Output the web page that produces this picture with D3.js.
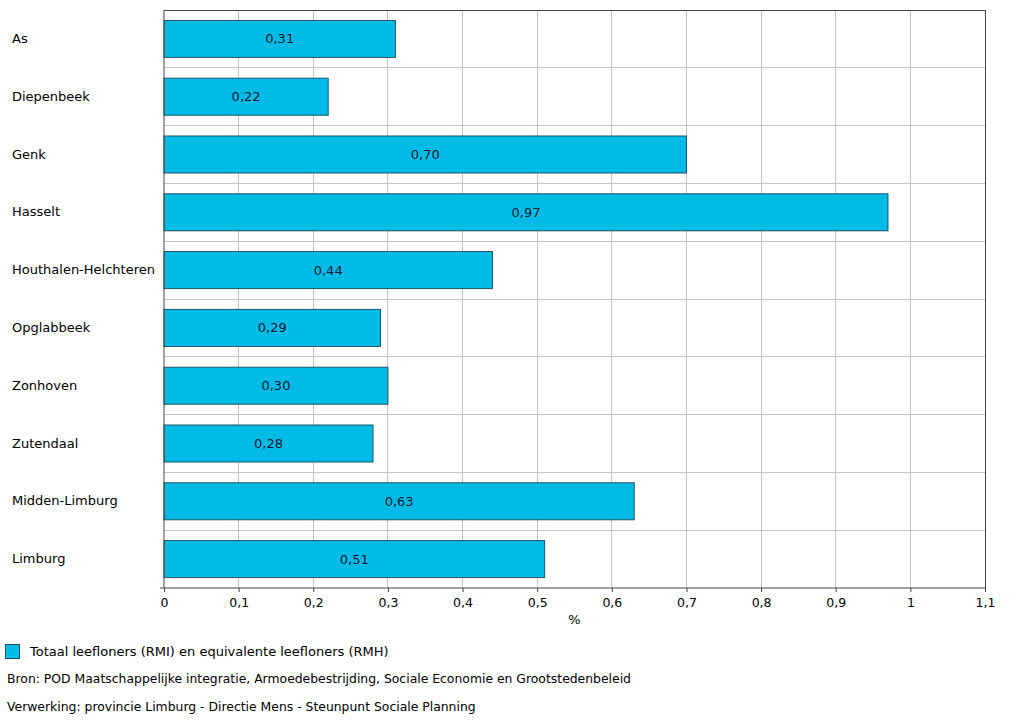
<!DOCTYPE html>
<html>
<head>
<meta charset="utf-8">
<script src="https://cdn.jsdelivr.net/npm/d3@7"></script>
<style>
  body { margin: 0; background: #fff; }
  text { font-family: "DejaVu Sans", Verdana, sans-serif; font-size: 13px; fill: #000; }
</style>
</head>
<body>
<div id="chart"></div>
<script>
// data
const categories = ["As", "Diepenbeek", "Genk", "Hasselt", "Houthalen-Helchteren",
  "Opglabbeek", "Zonhoven", "Zutendaal", "Midden-Limburg", "Limburg"];
const values = [0.31, 0.22, 0.70, 0.97, 0.44, 0.29, 0.30, 0.28, 0.63, 0.51];
const xTicks = [0, 0.1, 0.2, 0.3, 0.4, 0.5, 0.6, 0.7, 0.8, 0.9, 1, 1.1];
const legendLabel = "Totaal leefloners (RMI) en equivalente leefloners (RMH)";
const notes = [
  "Bron: POD Maatschappelijke integratie, Armoedebestrijding, Sociale Economie en Grootstedenbeleid",
  "Verwerking: provincie Limburg - Directie Mens - Steunpunt Sociale Planning"
];

const W = 1024, H = 722;
const margin = { top: 10, right: 39, bottom: 134, left: 164 };
const width = W - margin.left - margin.right;
const height = H - margin.top - margin.bottom;

const fmt = v => String(v).replace(".", ",");
const fmt2 = v => v.toFixed(2).replace(".", ",");

const root = d3.select("#chart").append("svg")
  .attr("width", W).attr("height", H);

const svg = root.append("g")
  .attr("transform", `translate(${margin.left}, ${margin.top})`);

const x = d3.scaleLinear().domain([0, 1.1]).range([0, width]);
const y = d3.scaleBand().domain(categories).range([0, height]).paddingInner(0.36).paddingOuter(0.18);

// vertical grid
svg.append("g")
  .selectAll("line")
  .data(xTicks.slice(1, -1))
  .join("line")
  .attr("x1", d => x(d)).attr("x2", d => x(d))
  .attr("y1", 0).attr("y2", height)
  .attr("stroke", "#c4c4c4").attr("stroke-width", 1)
  .attr("shape-rendering", "crispEdges");

// horizontal grid at band boundaries
svg.append("g")
  .selectAll("line")
  .data(d3.range(1, categories.length))
  .join("line")
  .attr("x1", 0).attr("x2", width)
  .attr("y1", i => i * height / categories.length)
  .attr("y2", i => i * height / categories.length)
  .attr("stroke", "#c4c4c4").attr("stroke-width", 1)
  .attr("shape-rendering", "crispEdges");

// bars
svg.append("g")
  .selectAll("rect")
  .data(values)
  .join("rect")
  .attr("x", x(0))
  .attr("y", (d, i) => y(categories[i]))
  .attr("width", d => x(d) - x(0))
  .attr("height", y.bandwidth())
  .attr("fill", "#00bbe6")
  .attr("stroke", "#1f5466")
  .attr("stroke-width", 1);

// value labels
svg.append("g")
  .selectAll("text")
  .data(values)
  .join("text")
  .attr("x", d => x(d) / 2)
  .attr("y", (d, i) => y(categories[i]) + y.bandwidth() / 2)
  .attr("dy", "0.35em")
  .attr("text-anchor", "middle")
  .style("fill", "#0a1a33")
  .text(d => fmt2(d));

// frame: top and right
svg.append("line").attr("x1", 0).attr("x2", width).attr("y1", 0).attr("y2", 0)
  .attr("stroke", "#444").attr("shape-rendering", "crispEdges");
svg.append("line").attr("x1", width).attr("x2", width).attr("y1", 0).attr("y2", height)
  .attr("stroke", "#444").attr("shape-rendering", "crispEdges");

// x axis
const xAxis = svg.append("g")
  .attr("transform", `translate(0, ${height})`)
  .call(d3.axisBottom(x).tickValues(xTicks).tickSize(4).tickPadding(6).tickFormat(fmt));
xAxis.select(".domain").attr("stroke", "#444").attr("d", `M-4,0H${width}`);
xAxis.selectAll(".tick line").attr("stroke", "#444");
xAxis.selectAll("text").style("font-family", "DejaVu Sans, Verdana, sans-serif").style("font-size", "12.5px").attr("fill", "#000");

// y axis
const yAxis = svg.append("g")
  .call(d3.axisLeft(y).tickSize(0).tickPadding(0).tickFormat(d => d));
yAxis.select(".domain").attr("stroke", "#444").attr("d", `M0,0V${height}`);
yAxis.selectAll("text")
  .attr("x", -margin.left + 12)
  .attr("text-anchor", "start")
  .style("font-family", "DejaVu Sans, Verdana, sans-serif").style("font-size", "13px")
  .attr("fill", "#000");

// axis title
svg.append("text")
  .attr("x", x(0.55))
  .attr("y", height + 36)
  .attr("text-anchor", "middle")
  .text("%");

// legend
root.append("rect")
  .attr("x", 5.5).attr("y", 644.5).attr("width", 14).attr("height", 14)
  .attr("fill", "#00bbe6").attr("stroke", "#1f5466");
root.append("text")
  .attr("x", 30).attr("y", 651).attr("dy", "0.35em")
  .text(legendLabel);

// notes
root.append("g")
  .selectAll("text")
  .data(notes)
  .join("text")
  .attr("x", 7)
  .attr("y", (d, i) => 679 + i * 28)
  .attr("dy", "0.35em")
  .style("font-size", "12.4px")
  .text(d => d);
</script>
</body>
</html>
